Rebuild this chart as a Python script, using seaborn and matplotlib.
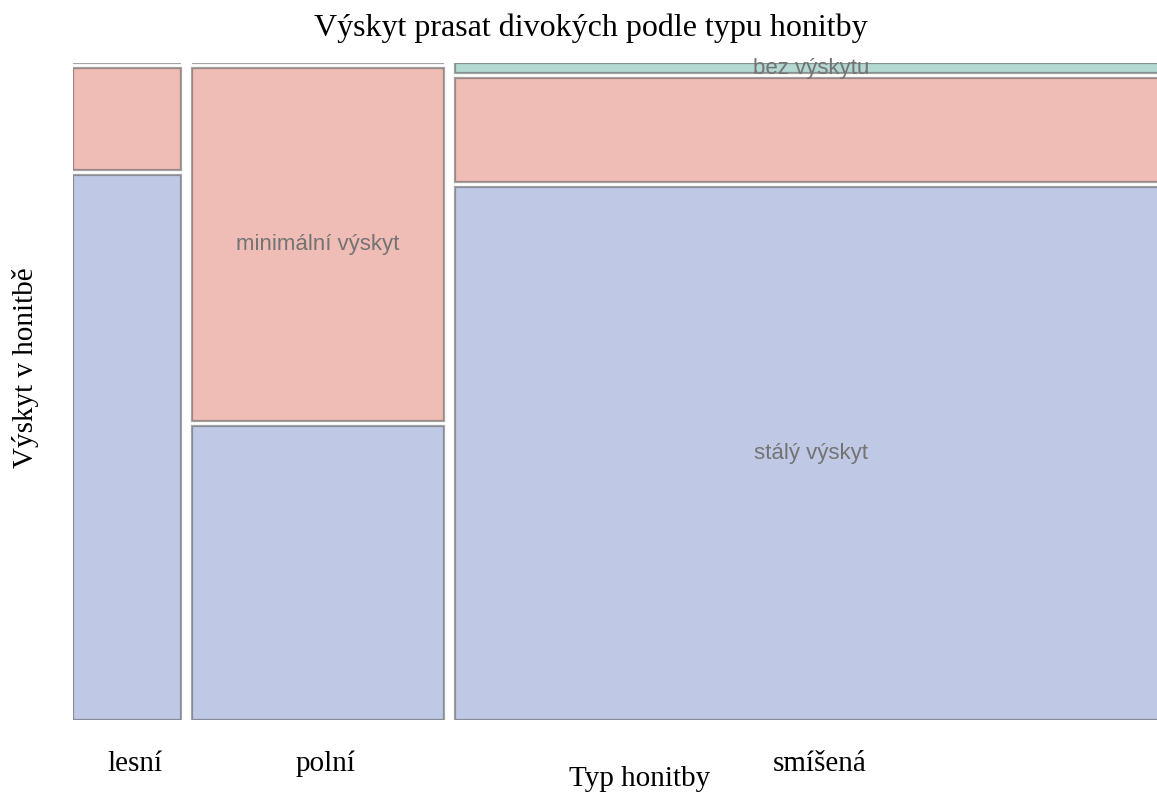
import numpy as np
import pandas as pd
import matplotlib.pyplot as plt
import seaborn as sns

# hunting ground types (columns) and occurrence levels (rows, top to bottom)
typy = ['lesní', 'polní', 'smíšená']
vyskyt = ['bez výskytu', 'minimální výskyt', 'stálý výskyt']

# counts of hunting grounds per type and occurrence
bez = [0, 0, 2]
minimalni = [3, 24, 20]
staly = [16, 20, 103]

barvy = {'bez výskytu': '#b4d8d2', 'minimální výskyt': '#efbcb6', 'stálý výskyt': '#bfc9e5'}

df = pd.DataFrame({'typ': typy, 'bez výskytu': bez,
                   'minimální výskyt': minimalni, 'stálý výskyt': staly}).set_index('typ')

sns.set_theme(style='white')
plt.rcParams['font.family'] = ['Liberation Serif', 'DejaVu Serif']
plt.rcParams['text.color'] = 'black'
plt.rcParams['axes.labelcolor'] = 'black'
plt.rcParams['xtick.color'] = 'black'

fig = plt.figure(figsize=(11.57, 7.96), dpi=100)
# axes runs slightly past the right edge, like the cropped original
ax = fig.add_axes([73 / 1157, 76 / 796, 1095 / 1157, 657 / 796])

gap_x = 11 / 1095
gap_y = 5 / 657
tot_col = df.sum(axis=1)
sirky = (1 - gap_x * (len(typy) - 1)) * tot_col / tot_col.sum()
leve = np.concatenate([[0], np.cumsum(sirky.values + gap_x)[:-1]])

# stack from the bottom: stálý, minimální, bez
poradi = vyskyt[::-1]
dno = np.zeros(len(typy))
for i, v in enumerate(poradi):
    podil = df[v] / tot_col * (1 - gap_y * (len(vyskyt) - 1))
    ax.bar(leve, podil.values, width=sirky.values, bottom=dno, align='edge',
           color=barvy[v], edgecolor=(0.35, 0.35, 0.35, 0.55), linewidth=1.6)
    # label each level once, in its largest cell
    j = int(np.argmax(df[v].values))
    ax.text(leve[j] + sirky.values[j] / 2, dno[j] + podil.values[j] / 2, v,
            ha='center', va='center', color='#747474', fontsize=16,
            family=['Liberation Sans', 'DejaVu Sans'])
    dno = dno + podil.values + gap_y

ax.set_xlim(0, 1)
ax.set_ylim(0, 1)
ax.set_yticks([])
ax.set_xticks(leve + sirky.values / 2 + 8 / 1095)
ax.set_xticklabels(typy, fontsize=21)
ax.tick_params(axis='x', length=0, pad=22)
sns.despine(ax=ax, left=True, bottom=True, top=True, right=True)

ax.set_xlabel('Typ honitby', fontsize=21)
ax.xaxis.set_label_coords((640 - 73) / 1095, -(766 - 720) / 657)
ax.set_ylabel('Výskyt v honitbě', fontsize=21)
ax.yaxis.set_label_coords(-(73 - 39) / 1095, (720 - 368) / 657)
fig.text(591 / 1157, 1 - 28 / 796, 'Výskyt prasat divokých podle typu honitby',
         ha='center', va='center', fontsize=23)

fig.savefig('out.png', dpi=100)
